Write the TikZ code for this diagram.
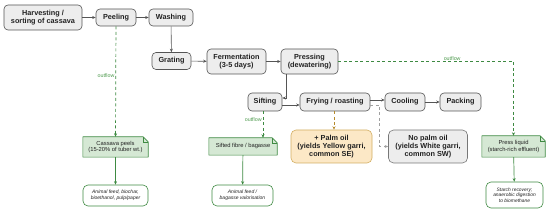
\documentclass[tikz,border=0pt]{standalone}
\usepackage{fontspec}
\setmainfont{Liberation Sans}
\usetikzlibrary{arrows.meta,calc}
\definecolor{procfill}{HTML}{EDEDED}
\definecolor{procline}{HTML}{555555}
\definecolor{notefill}{HTML}{D5E8D4}
\definecolor{greenline}{HTML}{3E8A42}
\definecolor{greentext}{HTML}{4E9A4E}
\definecolor{palmfill}{HTML}{FCE8C6}
\definecolor{palmline}{HTML}{D2AE62}
\definecolor{palmarrow}{HTML}{B58A2C}
\definecolor{grayarrow}{HTML}{A0A0A0}
\definecolor{txt}{HTML}{222222}
\pgfdeclarelayer{background}
\pgfsetlayers{background,main}
\begin{document}
\begin{tikzpicture}[x=1pt,y=-1pt,
  proc/.style={draw=procline, fill=procfill, rounded corners=4pt, line width=0.6pt, inner sep=0pt, align=center, text=txt, font=\fontsize{7.3}{8.6}\selectfont\bfseries},
  notebox/.style={inner sep=0pt, align=center, text=txt, font=\fontsize{5.8}{6.8}\selectfont},
  usebox/.style={draw=greenline, fill=white, rounded corners=5pt, line width=0.6pt, inner sep=0pt, align=center, text=txt, font=\fontsize{5}{6}\selectfont\itshape},
  arr/.style={draw=procline, line width=0.6pt, -{Stealth[length=3.5pt,width=3pt]}},
  dsh/.style={line width=0.7pt, dash pattern=on 3pt off 2.5pt, -{Stealth[length=3.5pt,width=3pt]}},
  outf/.style={dsh, draw=greenline},
  garr/.style={draw=greenline, line width=0.7pt, -{Stealth[length=3.5pt,width=3pt]}},
  lbl/.style={text=greentext, font=\fontsize{5.3}{6}\selectfont, inner sep=1pt}
]
\useasboundingbox (0,0) rectangle (550,213);

% process boxes
\node[proc, minimum width=78pt, minimum height=25pt] (harv) at (43,17.5) {Harvesting /\\sorting of cassava};
\node[proc, minimum width=40pt, minimum height=17pt] (peel) at (116,17.5) {Peeling};
\node[proc, minimum width=44pt, minimum height=17pt] (wash) at (171,17.5) {Washing};
\node[proc, minimum width=39pt, minimum height=17pt] (grat) at (171.5,61) {Grating};
\node[proc, minimum width=59pt, minimum height=25pt] (ferm) at (236.5,61.5) {Fermentation\\(3-5 days)};
\node[proc, minimum width=57pt, minimum height=25pt] (press) at (309.5,61.5) {Pressing\\(dewatering)};
\node[proc, minimum width=34pt, minimum height=18pt] (sift) at (265,102) {Sifting};
\node[proc, minimum width=70pt, minimum height=18pt] (fry) at (335,102) {Frying / roasting};
\node[proc, minimum width=40pt, minimum height=18pt] (cool) at (405,102) {Cooling};
\node[proc, minimum width=41pt, minimum height=18pt] (pack) at (460.5,102) {Packing};
\node[proc, fill=palmfill, draw=palmline, rounded corners=5pt, minimum width=81pt, minimum height=33pt, font=\fontsize{7.3}{8.3}\selectfont\bfseries] (palm) at (331.5,146.5) {+ Palm oil\\(yields Yellow garri,\\common SE)};
\node[proc, draw=procline!80, rounded corners=5pt, minimum width=79pt, minimum height=33pt, font=\fontsize{7.3}{8.3}\selectfont\bfseries] (nopalm) at (428,146.5) {No palm oil\\(yields White garri,\\common SW)};

% notes
\node[notebox, minimum width=65pt, minimum height=20pt] (peels) at (115.5,147) {Cassava peels\\(15-20\% of tuber wt.)};
\node[notebox, minimum width=68pt, minimum height=17pt] (fibre) at (243,146.5) {Sifted fibre / bagasse};
\node[notebox, minimum width=63pt, minimum height=21pt] (liquid) at (513.5,146.5) {Press liquid\\(starch-rich effluent)};
\begin{pgfonlayer}{background}
\foreach \n in {peels,fibre,liquid}{
  \filldraw[fill=notefill, draw=greenline, line width=0.6pt, line join=round]
    (\n.south west) -- (\n.north west) -- ($(\n.north east)+(-5,0)$) -- ($(\n.north east)+(0,5)$) -- (\n.south east) -- cycle;
  \draw[greenline, line width=0.5pt] ($(\n.north east)+(-5,0)$) -- ($(\n.north east)+(-5,5)$) -- ($(\n.north east)+(0,5)$);
}
\end{pgfonlayer}

% uses
\node[usebox, minimum width=65pt, minimum height=21pt] (feed1) at (115.5,195.5) {Animal feed, biochar,\\bioethanol, pulp/paper};
\node[usebox, minimum width=61pt, minimum height=21pt] (feed2) at (242.5,195.5) {Animal feed /\\bagasse valorisation};
\node[usebox, minimum width=57pt, minimum height=26pt, font=\fontsize{4.9}{5.7}\selectfont\itshape] (starch) at (514.5,195) {Starch recovery;\\anaerobic digestion\\to biomethane};

% main flow
\draw[arr] (harv) -- (peel);
\draw[arr] (peel) -- (wash);
\draw[arr] (wash) -- (grat);
\draw[arr] (grat) -- (ferm);
\draw[arr] (ferm) -- (press);
\draw[arr] ([xshift=-23.5pt]press.south) |- ([yshift=4pt]sift.east);
\draw[arr] ([yshift=-3pt]sift.east) -- ([yshift=-3pt]fry.west);
\draw[arr] ([yshift=2pt]fry.east) -- ([yshift=2pt]cool.west);
\draw[arr] (cool) -- (pack);

% variants
\draw[dsh, draw=palmarrow] ([xshift=-1pt]fry.south) -- ([xshift=-1pt]fry.south |- palm.north);
\draw[dsh, draw=grayarrow] ([yshift=-3pt]fry.east) -- ++(9,0) |- (nopalm.west);

% outflows
\draw[outf] (peel) -- node[lbl, pos=0.45, left] {outflow} (peels);
\draw[outf] ([xshift=-2pt]sift.south) -- node[lbl, pos=0.3, left] {outflow} ([xshift=-2pt]sift.south |- fibre.north);
\draw[outf] (press.east) -| node[lbl, pos=0.325, above] {outflow} (liquid.north);

% uses arrows
\draw[garr] (peels) -- (feed1);
\draw[garr] (fibre) -- (feed2);
\draw[garr] (liquid) -- (starch);
\end{tikzpicture}
\end{document}
